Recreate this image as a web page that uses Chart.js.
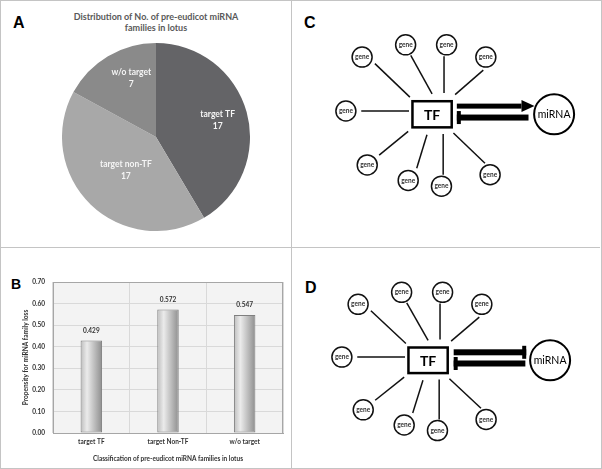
<!DOCTYPE html>
<html>
<head>
<meta charset="utf-8">
<script src="https://cdn.jsdelivr.net/npm/chart.js@4.4.1/dist/chart.umd.min.js"></script>
<style>
    body { margin: 0; background: #fff; font-family: Lato, "Open Sans", sans-serif; }
    #fig { position: relative; width: 602px; height: 469px; overflow: hidden; }
    .box { position: absolute; }
    .frame { position: absolute; left: 0; top: 0; width: 600px; height: 467px; border: 1px solid #c4c4c4; box-sizing: content-box; }
    .vline { position: absolute; left: 291px; top: 0; width: 1px; height: 468px; background: #c4c4c4; }
    .hline { position: absolute; left: 0; top: 247px; width: 600px; height: 1px; background: #c4c4c4; }
    .tag { position: absolute; font-weight: bold; color: #000; font-family: "Liberation Sans", Arial, sans-serif; line-height: 1; }
    .titulo { position: absolute; left: 40px; top: 11px; width: 232px; text-align: center; font-weight: bold; font-size: 9px; line-height: 11px; color: #595959; }
</style>
</head>
<body>
<div id="fig">
    <div class="frame"></div>
    <div class="vline"></div>
    <div class="hline"></div>

    <div class="tag" style="left:13px; top:15px; font-size:16px;">A</div>
    <div class="titulo">Distribution of No. of pre-eudicot miRNA<br>families in lotus</div>
    <div class="box" style="left:62px; top:43px; width:188px; height:188px;"><canvas id="pieChart"></canvas></div>

    <div class="tag" style="left:11px; top:277px; font-size:14px;">B</div>
    <div class="box" style="left:0px; top:248px; width:291px; height:219px;"><canvas id="barChart"></canvas></div>

    <div class="tag" style="left:304px; top:15px; font-size:16px;">C</div>
    <div class="box" style="left:300px; top:0px; width:300px; height:240px;"><canvas id="diagC"></canvas></div>

    <div class="tag" style="left:305px; top:280px; font-size:16px;">D</div>
    <div class="box" style="left:296px; top:248px; width:300px; height:219px;"><canvas id="diagD"></canvas></div>
</div>

<script>
// Panel A - pie
const pieLabels = ['target TF', 'target non-TF', 'w/o target'];
const pieCounts = [17, 17, 7];
const pieColors = ['#646467', '#a8a8a8', '#8a8a8a'];

// Panel B - bars
const barLabels = ['target TF', 'target Non-TF', 'w/o target'];
const barValues = [0.429, 0.572, 0.547];
const yMin = 0;
const yMax = 0.7;
const yStep = 0.1;
const yTitle = 'Propensity for miRNA family loss';
const xTitle = 'Classification of pre-eudicot miRNA families in lotus';

// Panels C / D - diagram (positions in panel pixels)
const genePositions = [[47, 43], [98, 28], [146, 28], [192, 43], [28, 109], [53, 175], [101, 194], [140, 201], [197, 187]];
const spokes = [
    [[62, 51], [103, 92]],
    [[104, 41], [129, 88]],
    [[143, 42], [143, 87]],
    [[189, 59], [156, 89]],
    [[46, 109], [102, 109]],
    [[67, 163], [101, 134]],
    [[111, 179], [123, 138]],
    [[142, 187], [142, 137]],
    [[191, 173], [154, 136]]
];
const tfBox = { x1: 106, y1: 97, x2: 152, y2: 129 };
const mirnaNode = [272, 113];
const flechasC = [
    { y: 103, desde: 158, hasta: 249, punta: 'arrow' },
    { y: 117, desde: 242, hasta: 158, punta: 'bar' }
];
const flechasD = [
    { y: 103, desde: 159, hasta: 244, punta: 'bar' },
    { y: 117, desde: 243, hasta: 159, punta: 'bar' }
];

const fuente = 'Lato, "Open Sans", sans-serif';

// ---------- Pie ----------
const posEtiquetas = [{ r: 0.68, da: 0 }, { r: 0.48, da: -2 }, { r: 0.68, da: 8 }];
const pieLabelPlugin = {
    id: 'pieLabels',
    afterDatasetsDraw(chart) {
        const ctx = chart.ctx;
        const arcs = chart.getDatasetMeta(0).data;
        ctx.save();
        ctx.fillStyle = '#f5f5f5';
        ctx.font = 'bold 8.5px ' + fuente;
        ctx.textAlign = 'center';
        ctx.textBaseline = 'middle';
        arcs.forEach((arc, i) => {
            const p = posEtiquetas[i];
            const ang = (arc.startAngle + arc.endAngle) / 2 + p.da * Math.PI / 180;
            const r = arc.outerRadius * p.r;
            const x = arc.x + Math.cos(ang) * r;
            const y = arc.y + Math.sin(ang) * r;
            ctx.fillText(pieLabels[i], x, y - 6);
            ctx.fillText(String(pieCounts[i]), x, y + 6);
        });
        ctx.restore();
    }
};

new Chart(document.getElementById('pieChart'), {
    type: 'pie',
    data: {
        labels: pieLabels,
        datasets: [{ data: pieCounts, backgroundColor: pieColors, borderWidth: 0 }]
    },
    options: {
        responsive: true,
        maintainAspectRatio: false,
        animation: false,
        plugins: { legend: { display: false }, tooltip: { enabled: false } }
    },
    plugins: [pieLabelPlugin]
});

// ---------- Bars ----------
const barPct = 0.28;
function degradadoBarra(c) {
    const chart = c.chart;
    const x = chart.scales.x;
    if (!x || !chart.chartArea) return '#c8c8c8';
    const cx = x.getPixelForValue(c.dataIndex);
    const half = (x.width / barLabels.length) * barPct / 2;
    const g = chart.ctx.createLinearGradient(cx - half, 0, cx + half, 0);
    g.addColorStop(0, '#bdbdbd');
    g.addColorStop(0.3, '#ebebeb');
    g.addColorStop(1, '#8e8e8e');
    return g;
}

const plotAreaPlugin = {
    id: 'plotArea',
    beforeDraw(chart) {
        const { ctx, chartArea: a } = chart;
        ctx.save();
        ctx.fillStyle = '#f3f3f3';
        ctx.fillRect(a.left, a.top, a.right - a.left, a.bottom - a.top);
        ctx.restore();
    },
    afterDatasetsDraw(chart) {
        const { ctx, chartArea: a } = chart;
        ctx.save();
        ctx.strokeStyle = '#a6a6a6';
        ctx.lineWidth = 1;
        ctx.strokeRect(a.left + 0.5, a.top + 0.5, a.right - a.left - 1, a.bottom - a.top);
        // valores sobre las barras
        ctx.fillStyle = '#333';
        ctx.font = 'bold 6.5px ' + fuente;
        ctx.textAlign = 'center';
        ctx.textBaseline = 'middle';
        chart.getDatasetMeta(0).data.forEach((bar, i) => {
            ctx.fillText(barValues[i].toFixed(3), bar.x, bar.y - 10);
        });
        ctx.restore();
    }
};

const fuenteEje = { family: fuente, size: 6.5, weight: 'bold' };

new Chart(document.getElementById('barChart'), {
    type: 'bar',
    data: {
        labels: barLabels,
        datasets: [{
            data: barValues,
            backgroundColor: degradadoBarra,
            borderColor: '#7f7f7f',
            borderWidth: 1,
            borderSkipped: false,
            categoryPercentage: 1,
            barPercentage: barPct
        }]
    },
    options: {
        responsive: true,
        maintainAspectRatio: false,
        animation: false,
        layout: { padding: { top: 34, right: 8, left: 0, bottom: 4 } },
        plugins: { legend: { display: false }, tooltip: { enabled: false } },
        scales: {
            x: {
                afterFit(s) { s.height = 30; },
                grid: { color: '#d9d9d9', drawTicks: false },
                border: { color: '#a6a6a6' },
                ticks: { color: '#333', font: fuenteEje, padding: 5 },
                title: { display: true, text: xTitle, color: '#333', font: fuenteEje, padding: { top: 4, bottom: 0 } }
            },
            y: {
                min: yMin,
                max: yMax,
                afterFit(s) { s.width = 53; },
                grid: { color: '#d9d9d9', drawTicks: false },
                border: { color: '#a6a6a6' },
                ticks: {
                    stepSize: yStep,
                    padding: 8,
                    color: '#333',
                    font: fuenteEje,
                    callback: v => Number(v).toFixed(2)
                },
                title: { display: true, text: yTitle, color: '#333', font: fuenteEje, padding: { top: 22, bottom: 0 } }
            }
        }
    },
    plugins: [plotAreaPlugin]
});

// ---------- Diagrams ----------
function crearDiagrama(id, alto, flechas) {
    const spokeSets = spokes.map(s => ({
        type: 'scatter',
        data: s.map(p => ({ x: p[0], y: p[1] })),
        showLine: true,
        pointRadius: 0,
        borderColor: '#111',
        borderWidth: 1.5,
        clip: false
    }));

    const diagramPlugin = {
        id: 'diagrama',
        afterDatasetsDraw(chart) {
            const { ctx } = chart;
            const sx = chart.scales.x, sy = chart.scales.y;
            const px = v => sx.getPixelForValue(v);
            const py = v => sy.getPixelForValue(v);
            ctx.save();

            // caja TF
            ctx.strokeStyle = '#000';
            ctx.lineWidth = 2.5;
            ctx.fillStyle = '#fff';
            ctx.fillRect(px(tfBox.x1), py(tfBox.y1), px(tfBox.x2) - px(tfBox.x1), py(tfBox.y2) - py(tfBox.y1));
            ctx.strokeRect(px(tfBox.x1), py(tfBox.y1), px(tfBox.x2) - px(tfBox.x1), py(tfBox.y2) - py(tfBox.y1));
            ctx.fillStyle = '#000';
            ctx.font = 'bold 14px ' + fuente;
            ctx.textAlign = 'center';
            ctx.textBaseline = 'middle';
            ctx.fillText('TF', px((tfBox.x1 + tfBox.x2) / 2), py((tfBox.y1 + tfBox.y2) / 2) + 1);

            // textos gene
            ctx.font = 'bold 6.5px ' + fuente;
            ctx.fillStyle = '#333';
            genePositions.forEach(g => ctx.fillText('gene', px(g[0]), py(g[1])));

            // miRNA
            ctx.font = '10.5px ' + fuente;
            ctx.fillStyle = '#000';
            ctx.fillText('miRNA', px(mirnaNode[0]), py(mirnaNode[1]));

            // flechas
            ctx.fillStyle = '#000';
            flechas.forEach(f => {
                const y = py(f.y);
                const dir = Math.sign(f.hasta - f.desde);
                const x0 = px(f.desde), x1 = px(f.hasta);
                if (f.punta === 'arrow') {
                    const headLen = 13;
                    const xb = x1 - dir * headLen;
                    ctx.fillRect(Math.min(x0, xb), y - 2.5, Math.abs(xb - x0), 5);
                    ctx.beginPath();
                    ctx.moveTo(xb, y - 6);
                    ctx.lineTo(x1, y);
                    ctx.lineTo(xb, y + 6);
                    ctx.closePath();
                    ctx.fill();
                } else {
                    ctx.fillRect(Math.min(x0, x1), y - 3, Math.abs(x1 - x0), 6);
                    const capX = dir > 0 ? x1 - 4 : x1;
                    ctx.fillRect(capX, y - 6.5, 4, 13);
                }
            });
            ctx.restore();
        }
    };

    new Chart(document.getElementById(id), {
        type: 'scatter',
        data: {
            datasets: [
                {
                    data: genePositions.map(g => ({ x: g[0], y: g[1] })),
                    pointRadius: 10,
                    pointBackgroundColor: '#fff',
                    pointBorderColor: '#111',
                    pointBorderWidth: 1.5,
                    clip: false
                },
                {
                    data: [{ x: mirnaNode[0], y: mirnaNode[1] }],
                    pointRadius: 20,
                    pointBackgroundColor: '#fff',
                    pointBorderColor: '#000',
                    pointBorderWidth: 2,
                    clip: false
                },
                ...spokeSets
            ]
        },
        options: {
            responsive: true,
            maintainAspectRatio: false,
            animation: false,
            layout: { padding: 0 },
            plugins: { legend: { display: false }, tooltip: { enabled: false } },
            scales: {
                x: { type: 'linear', min: 0, max: 300, display: false },
                y: { type: 'linear', min: 0, max: alto, reverse: true, display: false }
            }
        },
        plugins: [diagramPlugin]
    });
}

crearDiagrama('diagC', 240, flechasC);
crearDiagrama('diagD', 219, flechasD);
</script>
</body>
</html>
